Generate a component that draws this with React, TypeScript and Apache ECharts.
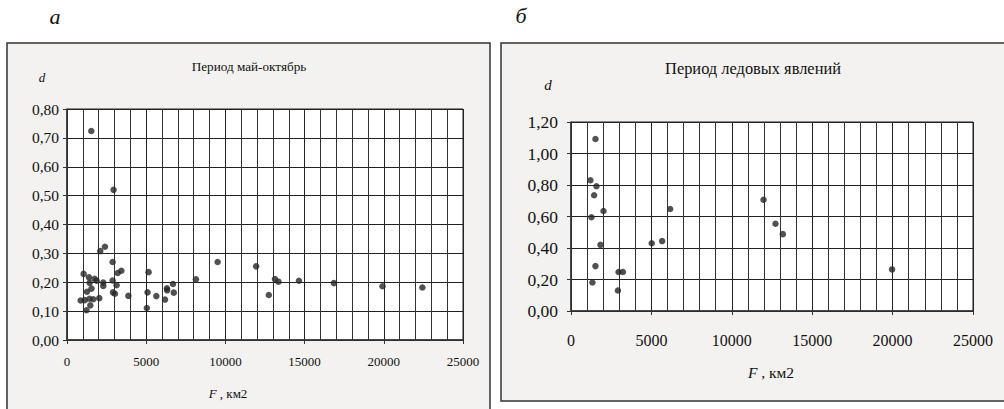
import React, { useEffect, useRef } from "react";
import * as echarts from "echarts";

const leftF = [1534, 2941, 2100, 2395, 2878, 1050, 1387, 1744, 1870, 1429, 2290, 2290, 2878, 3130, 3200, 3430, 1545, 1261, 860, 1120, 1420, 1660, 1230, 1471, 2038, 2900, 3030, 3876, 5150, 5084, 5040, 5640, 6190, 6310, 6320, 6690, 6740, 8140, 9510, 11940, 12740, 13130, 13350, 14643, 16849, 19916, 22437];
const leftD = [0.724, 0.52, 0.308, 0.323, 0.27, 0.229, 0.217, 0.212, 0.205, 0.198, 0.199, 0.187, 0.206, 0.19, 0.232, 0.24, 0.178, 0.167, 0.137, 0.138, 0.143, 0.141, 0.103, 0.12, 0.145, 0.165, 0.16, 0.153, 0.235, 0.165, 0.111, 0.152, 0.14, 0.179, 0.172, 0.194, 0.164, 0.21, 0.27, 0.255, 0.156, 0.211, 0.202, 0.205, 0.197, 0.186, 0.182];

const rightF = [1521, 1208, 1583, 1438, 2021, 1271, 1833, 1521, 1333, 2958, 3229, 2917, 5021, 5667, 6167, 11972, 12717, 13173, 19967];
const rightD = [1.092, 0.83, 0.792, 0.735, 0.635, 0.595, 0.42, 0.285, 0.181, 0.248, 0.248, 0.13, 0.43, 0.444, 0.648, 0.706, 0.554, 0.488, 0.264];

const leftTitle = "Период май-октябрь";
const rightTitle = "Период ледовых явлений";

const FONT = "Liberation Serif";

function xAxisCfg(gridIndex: number, fontSize: number, margin: number) {
  return {
    type: "value",
    gridIndex,
    min: 0,
    max: 25000,
    interval: 5000,
    axisLine: { show: true, lineStyle: { color: "#333", width: 1.5 } },
    axisTick: { show: true, length: 4, lineStyle: { color: "#333" } },
    minorTick: { show: false, splitNumber: 5 },
    splitLine: { show: true, lineStyle: { color: "#222", width: 1 } },
    minorSplitLine: { show: true, lineStyle: { color: "#333", width: 1 } },
    axisLabel: {
      fontFamily: FONT,
      fontSize,
      color: "#111",
      margin,
      formatter: (v: number) => String(Math.round(v)),
    },
  };
}

function yAxisCfg(gridIndex: number, max: number, interval: number, fontSize: number, margin: number) {
  return {
    type: "value",
    gridIndex,
    min: 0,
    max,
    interval,
    axisLine: { show: true, lineStyle: { color: "#333", width: 1.5 } },
    axisTick: { show: true, length: 4, lineStyle: { color: "#333" } },
    splitLine: { show: true, lineStyle: { color: "#222", width: 1 } },
    axisLabel: {
      fontFamily: FONT,
      fontSize,
      color: "#111",
      margin,
      formatter: (v: number) => v.toFixed(2).replace(".", ","),
    },
  };
}

export default function App() {
  const ref = useRef<HTMLDivElement>(null);
  useEffect(() => {
    if (!ref.current) return;
    const chart = echarts.init(ref.current, null, { renderer: "svg" });
    const txt = (x: number, y: number, text: string, size: number, italic = false, align = "center") => ({
      type: "text",
      x,
      y,
      z: 10,
      style: {
        text,
        fontFamily: FONT,
        fontSize: size,
        fontStyle: italic ? "italic" : "normal",
        fill: "#111",
        align,
        verticalAlign: "middle",
      },
    });
    const fLabel = (x: number, y: number, size: number) => ({
      type: "text",
      x,
      y,
      z: 10,
      style: {
        text: "{i|F}{n| , км2}",
        fontFamily: FONT,
        fontSize: size,
        fill: "#111",
        align: "center",
        verticalAlign: "middle",
        rich: {
          i: { fontStyle: "italic", fontFamily: FONT, fontSize: size, fill: "#111" },
          n: { fontFamily: FONT, fontSize: size, fill: "#111" },
        },
      },
    });
    chart.setOption({
      animation: false,
      backgroundColor: "#fff",
      graphic: [
        { type: "rect", z: -10, shape: { x: 7, y: 43, width: 483, height: 380 }, style: { fill: "#f3f2f0", stroke: "#333", lineWidth: 1.5 } },
        { type: "rect", z: -10, shape: { x: 501, y: 43, width: 520, height: 358 }, style: { fill: "#f3f2f0", stroke: "#333", lineWidth: 1.5 } },
        txt(55, 16, "а", 22, true),
        txt(521, 15, "б", 22, true),
        txt(249, 66, leftTitle, 13.2),
        txt(753, 68, rightTitle, 16.4),
        txt(42, 77, "d", 13, true),
        txt(548, 85, "d", 15, true),
        fLabel(228, 393, 13),
        fLabel(771, 372, 15.5),
      ],
      grid: [
        { left: 67, top: 109, width: 396, height: 231, show: true, backgroundColor: "#fff", borderColor: "#222", borderWidth: 1 },
        { left: 571, top: 122, width: 402, height: 189, show: true, backgroundColor: "#fff", borderColor: "#222", borderWidth: 1 },
      ],
      xAxis: [xAxisCfg(0, 13, 15), xAxisCfg(1, 16, 21)],
      yAxis: [yAxisCfg(0, 0.8, 0.1, 15.5, 8), yAxisCfg(1, 1.2, 0.2, 17.5, 13)],
      series: [
        {
          type: "scatter",
          xAxisIndex: 0,
          yAxisIndex: 0,
          symbolSize: 6.5,
          itemStyle: { color: "#262626" },
          data: leftF.map((f, i) => [f, leftD[i]]),
        },
        {
          type: "scatter",
          xAxisIndex: 1,
          yAxisIndex: 1,
          symbolSize: 6.5,
          itemStyle: { color: "#262626" },
          data: rightF.map((f, i) => [f, rightD[i]]),
        },
      ],
    });
    return () => chart.dispose();
  }, []);
  return (
    <div
      ref={ref}
      style={{ position: "fixed", left: 0, top: 0, width: 1004, height: 409 }}
    />
  );
}
